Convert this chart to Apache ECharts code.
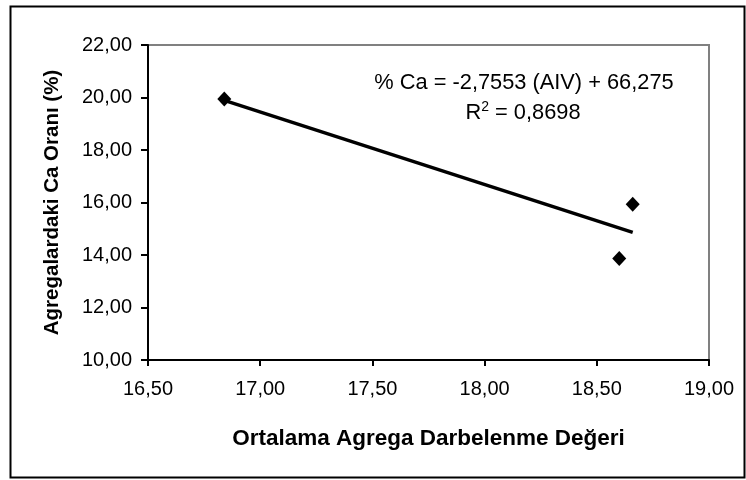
<!DOCTYPE html>
<html>
<head>
<meta charset="utf-8">
<script src="https://cdn.jsdelivr.net/npm/echarts@6/dist/echarts.min.js"></script>
<style>
html,body{margin:0;padding:0;background:#fff;}
#chart{width:746px;height:480px;}
</style>
</head>
<body>
<div id="chart"></div>
<script>
// Data
const xValues = [16.84, 18.66, 18.60];
const yValues = [19.94, 15.93, 13.87];
const trendX = [16.84, 18.66];
const trendY = [19.89, 14.86];
const xTicks = { min: 16.5, max: 19.0, interval: 0.5 };
const yTicks = { min: 10, max: 22, interval: 2 };
const xTitle = 'Ortalama Agrega Darbelenme Değeri';
const yTitle = 'Agregalardaki Ca Oranı (%)';
const eqLine1 = '% Ca = -2,7553 (AIV) + 66,275';
const eqLine2 = '0,8698';

const FONT = '"Liberation Sans", Arial, sans-serif';
const fmt = v => v.toFixed(2).replace('.', ',');

const chart = echarts.init(document.getElementById('chart'), null, {renderer: 'canvas'});
chart.setOption({
  animation: false,
  backgroundColor: '#fff',
  grid: {left: 148, right: 37, top: 45, bottom: 120, show: true, borderColor: '#808080', borderWidth: 2, backgroundColor: 'transparent'},
  xAxis: {
    type: 'value', min: xTicks.min, max: xTicks.max, interval: xTicks.interval,
    name: xTitle, nameLocation: 'middle', nameGap: 67,
    nameTextStyle: {fontFamily: FONT, fontSize: 22.5, fontWeight: 'bold', color: '#000'},
    axisLine: {show: true, onZero: false, lineStyle: {color: '#000', width: 2}},
    axisTick: {show: true, inside: false, length: 6, lineStyle: {color: '#000', width: 2}},
    axisLabel: {fontFamily: FONT, fontSize: 20, color: '#000', margin: 19, formatter: fmt},
    splitLine: {show: false}
  },
  yAxis: {
    type: 'value', min: yTicks.min, max: yTicks.max, interval: yTicks.interval,
    name: yTitle, nameLocation: 'middle', nameGap: 85,
    nameTextStyle: {fontFamily: FONT, fontSize: 20.5, fontWeight: 'bold', color: '#000'},
    axisLine: {show: true, onZero: false, lineStyle: {color: '#000', width: 2}},
    axisTick: {show: true, inside: false, length: 7, lineStyle: {color: '#000', width: 2}},
    axisLabel: {fontFamily: FONT, fontSize: 20, color: '#000', margin: 16, formatter: fmt},
    splitLine: {show: false}
  },
  series: [
    {
      type: 'line',
      data: trendX.map((x, i) => [x, trendY[i]]),
      showSymbol: false,
      symbol: 'none',
      lineStyle: {color: '#000', width: 3.5, opacity: 1},
      z: 2
    },
    {
      type: 'scatter',
      data: xValues.map((x, i) => [x, yValues[i]]),
      symbol: 'diamond',
      symbolSize: [14, 15],
      itemStyle: {color: '#000', opacity: 1},
      z: 3
    }
  ],
  graphic: [
    {
      type: 'rect', left: 8, top: 4, z: 100, silent: true,
      shape: {x: 0, y: 0, width: 734, height: 471},
      style: {fill: 'none', stroke: '#000', lineWidth: 2}
    },
    {
      type: 'text', x: 524, y: 83, z: 100,
      style: {text: eqLine1, fontFamily: FONT, fontSize: 21.8, fill: '#000', align: 'center', verticalAlign: 'middle'}
    },
    {
      type: 'text', x: 523, y: 113, z: 100,
      style: {
        text: '{r|R}{s|2}{r| = ' + eqLine2 + '}',
        align: 'center', verticalAlign: 'middle',
        rich: {
          r: {fontFamily: FONT, fontSize: 21.8, fill: '#000', color: '#000'},
          s: {fontFamily: FONT, fontSize: 14, fill: '#000', color: '#000', verticalAlign: 'top', padding: [0,0,12,0]}
        }
      }
    }
  ]
});
</script>
</body>
</html>
